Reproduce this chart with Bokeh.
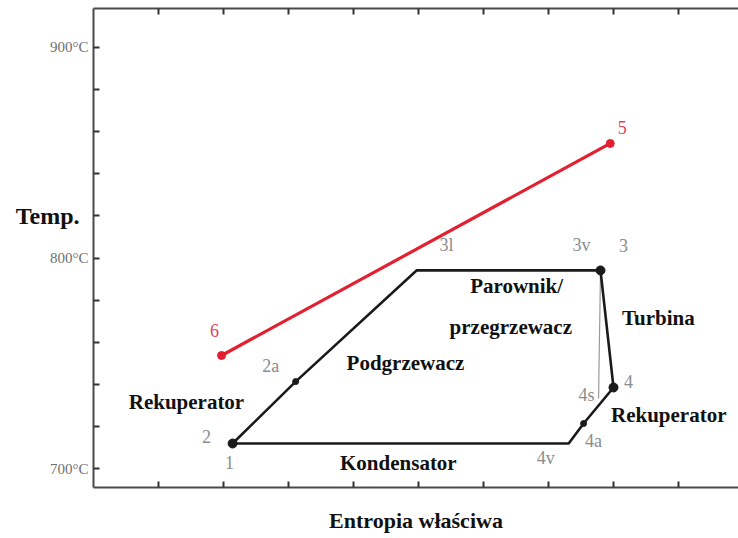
from bokeh.plotting import figure
from bokeh.models import (ColumnDataSource, LinearAxis, FixedTicker, Range1d)
from bokeh.core.properties import value
from bokeh.embed import file_html
from bokeh.resources import INLINE

# ---- data (x: entropy in tick units, y: temperature in °C) ----
cycle_names = ["1", "2a", "3l", "3", "4", "4a", "4v", "1"]
cycle_s = [2.14, 3.11, 4.97, 7.80, 8.00, 7.54, 7.31, 2.14]
cycle_T = [711.9, 741.3, 794.1, 794.1, 738.5, 721.4, 711.9, 711.9]

dot_s = [2.14, 3.11, 7.80, 8.00, 7.54]
dot_T = [711.9, 741.3, 794.1, 738.5, 721.4]
dot_size = [9, 6, 9, 9, 6]

isentrope_s = [7.80, 7.77]
isentrope_T = [794.1, 733.3]

hot_s = [1.97, 7.95]
hot_T = [753.7, 854.4]

y_ticks = [700, 720, 740, 760, 780, 800, 820, 840, 860, 880, 900]
y_tick_labels = {700: "700°C", 800: "800°C", 900: "900°C"}
x_ticks = [1, 2, 3, 4, 5, 6, 7, 8, 9]
y_title_at = 820
y_title = "Temp."

# point labels: text, anchor (data), pixel offsets (screen, +dy = down)
pt_text = ["1", "2", "2a", "3l", "3v", "3", "4", "4s", "4a", "4v"]
pt_s = [2.14, 2.14, 3.11, 4.97, 7.80, 7.80, 8.00, 7.77, 7.54, 7.31]
pt_T = [711.9, 711.9, 741.3, 794.1, 794.1, 794.1, 738.5, 733.3, 721.4, 711.9]
pt_dx = [-3, -26, -25, 30, -19, 23, 15, -12, 10, -23]
pt_dy = [19, -7, -16, -25, -25, -25, -6, -3, 18, 15]

red_text = ["6", "5"]
red_dx = [-7, 12]
red_dy = [-25, -16]

proc_text = ["Podgrzewacz", "Rekuperator", "Parownik/", "przegrzewacz",
             "Turbina", "Rekuperator", "Kondensator"]
proc_s = [4.80, 1.43, 6.51, 6.42, 8.69, 8.85, 4.69]
proc_T = [749.9, 731.8, 786.9, 767.0, 771.3, 725.2, 702.4]

SERIF = "Liberation Serif"
GRAY = "#8c8c8c"
RED = "#e3202f"

p = figure(width=738, height=538, output_backend="svg", toolbar_location=None,
           x_range=Range1d(0, 9.923), y_range=Range1d(691.0, 918.5),
           x_axis_location=None, y_axis_location=None,
           min_border_left=93, min_border_right=0, min_border_top=8,
           min_border_bottom=51)
p.outline_line_color = None
p.xgrid.visible = False
p.ygrid.visible = False
p.background_fill_color = "white"

def style_axis(ax):
    ax.axis_line_color = "#4a4a4a"
    ax.axis_line_width = 2
    ax.major_tick_in = 6
    ax.major_tick_out = 0
    ax.major_tick_line_color = "#333333"
    ax.major_tick_line_width = 2
    ax.minor_tick_line_color = None

left = LinearAxis(ticker=FixedTicker(ticks=y_ticks))
style_axis(left)
left.major_label_overrides = {t: y_tick_labels.get(t, "") for t in y_ticks}
left.major_label_text_font = "Liberation Sans Narrow"
left.major_label_text_font_size = "15px"
left.major_label_text_color = "#6e6e6e"
left.major_label_standoff = 5
p.add_layout(left, "left")

# horizontal y-axis title, drawn as the single label of an extra bare axis
title_axis = LinearAxis(ticker=FixedTicker(ticks=[y_title_at]))
title_axis.axis_line_color = None
title_axis.major_tick_line_color = None
title_axis.minor_tick_line_color = None
title_axis.major_tick_in = 0
title_axis.major_tick_out = 0
title_axis.major_label_overrides = {y_title_at: y_title}
title_axis.major_label_text_font = SERIF
title_axis.major_label_text_font_style = "bold"
title_axis.major_label_text_font_size = "24px"
title_axis.major_label_text_color = "#111111"
title_axis.major_label_standoff = -33
p.add_layout(title_axis, "left")

below = LinearAxis(ticker=FixedTicker(ticks=x_ticks))
style_axis(below)
below.major_label_overrides = {t: "" for t in x_ticks}
below.major_label_text_font_size = "1px"
below.major_label_standoff = 0
below.axis_label = "Entropia właściwa"
below.axis_label_text_font = SERIF
below.axis_label_text_font_style = "bold"
below.axis_label_text_font_size = "22px"
below.axis_label_standoff = 20
below.axis_label_text_color = "#111111"
p.add_layout(below, "below")

above = LinearAxis(ticker=FixedTicker(ticks=x_ticks))
style_axis(above)
above.major_label_overrides = {t: "" for t in x_ticks}
above.major_label_text_font_size = "1px"
above.major_label_standoff = 0
p.add_layout(above, "above")

# isentropic reference line
p.line(isentrope_s, isentrope_T, line_color="#9a9a9a", line_width=1.2)
# cycle
p.line(cycle_s, cycle_T, line_color="#1a1a1a", line_width=2.6)
p.scatter(dot_s, dot_T, size=dot_size, color="#1a1a1a")
# heat source line
p.line(hot_s, hot_T, line_color=RED, line_width=3.2)
p.scatter(hot_s, hot_T, size=8, color=RED)

pt_src = ColumnDataSource(dict(x=pt_s, y=pt_T, t=pt_text, dx=pt_dx, dy=pt_dy))
p.text("x", "y", text="t", source=pt_src, x_offset="dx", y_offset="dy",
       text_font=value(SERIF), text_font_size="18px", text_color=GRAY,
       text_align="center", text_baseline="middle")

red_src = ColumnDataSource(dict(x=hot_s, y=hot_T, t=red_text, dx=red_dx, dy=red_dy))
p.text("x", "y", text="t", source=red_src, x_offset="dx", y_offset="dy",
       text_font=value(SERIF), text_font_size="18px", text_color="#d9475a",
       text_align="center", text_baseline="middle")

proc_src = ColumnDataSource(dict(x=proc_s, y=proc_T, t=proc_text))
p.text("x", "y", text="t", source=proc_src,
       text_font=value(SERIF), text_font_size="21px", text_font_style="bold",
       text_color="#111111", text_align="center", text_baseline="middle")

open("out.html", "w").write(file_html(p, INLINE))
